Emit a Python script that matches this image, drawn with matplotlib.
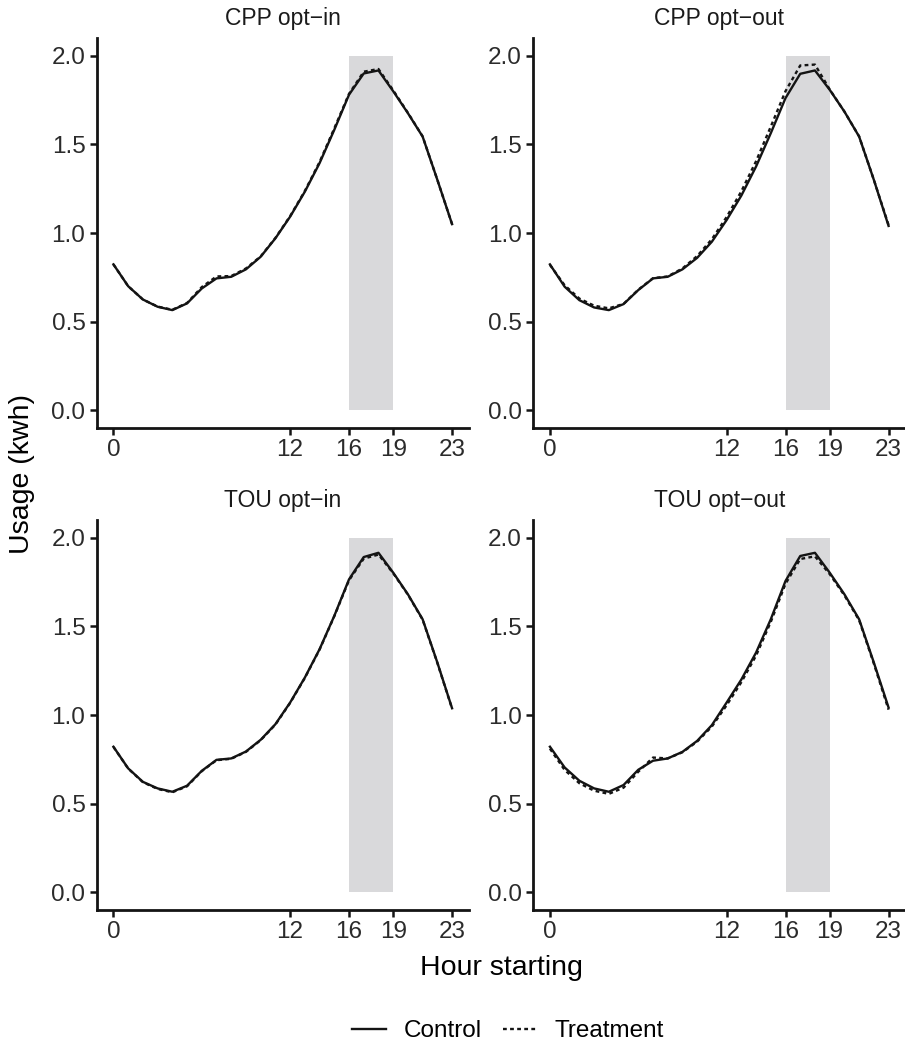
import numpy as np
import matplotlib
matplotlib.use("Agg")
from matplotlib import pyplot as plt
from matplotlib import patches as pts
from matplotlib.lines import Line2D

plt.rcParams['font.family'] = ['Liberation Sans', 'DejaVu Sans']

hours = list(range(24))
x_ticks = [0, 12, 16, 19, 23]
y_ticks = [0.0, 0.5, 1.0, 1.5, 2.0]
peak_start, peak_end, peak_top = 16, 19, 2.0
panel_titles = ['CPP opt\u2212in', 'CPP opt\u2212out', 'TOU opt\u2212in', 'TOU opt\u2212out']

# usage (kwh), one list per panel and group
cpp_in_control = [0.823, 0.700, 0.625, 0.584, 0.565, 0.603, 0.687, 0.744, 0.753, 0.795, 0.866, 0.970,
                  1.092, 1.233, 1.394, 1.582, 1.780, 1.900, 1.917, 1.800, 1.676, 1.544, 1.300, 1.050]
cpp_in_treat = [0.823, 0.700, 0.625, 0.585, 0.567, 0.605, 0.695, 0.755, 0.757, 0.800, 0.868, 0.972,
                1.095, 1.237, 1.400, 1.590, 1.785, 1.910, 1.925, 1.805, 1.678, 1.545, 1.300, 1.050]
cpp_out_control = [0.823, 0.697, 0.621, 0.580, 0.565, 0.599, 0.678, 0.744, 0.753, 0.795, 0.860, 0.951,
                   1.073, 1.211, 1.375, 1.563, 1.761, 1.898, 1.917, 1.808, 1.685, 1.544, 1.300, 1.040]
cpp_out_treat = [0.820, 0.705, 0.630, 0.590, 0.575, 0.600, 0.680, 0.745, 0.755, 0.800, 0.870, 0.965,
                 1.090, 1.235, 1.405, 1.600, 1.800, 1.945, 1.950, 1.810, 1.685, 1.545, 1.300, 1.045]
tou_in_control = [0.821, 0.699, 0.623, 0.586, 0.567, 0.601, 0.685, 0.747, 0.755, 0.794, 0.860, 0.948,
                  1.070, 1.211, 1.371, 1.559, 1.765, 1.891, 1.915, 1.803, 1.681, 1.540, 1.296, 1.038]
tou_in_treat = [0.820, 0.698, 0.621, 0.583, 0.564, 0.598, 0.683, 0.745, 0.753, 0.792, 0.858, 0.946,
                1.068, 1.209, 1.369, 1.557, 1.760, 1.882, 1.905, 1.800, 1.679, 1.538, 1.294, 1.036]
tou_out_control = [0.821, 0.704, 0.629, 0.586, 0.567, 0.605, 0.691, 0.742, 0.755, 0.792, 0.854, 0.943,
                   1.070, 1.200, 1.352, 1.540, 1.756, 1.897, 1.915, 1.803, 1.681, 1.540, 1.296, 1.042]
tou_out_treat = [0.810, 0.690, 0.615, 0.573, 0.555, 0.590, 0.680, 0.760, 0.755, 0.790, 0.850, 0.935,
                 1.055, 1.185, 1.335, 1.525, 1.740, 1.880, 1.895, 1.795, 1.675, 1.535, 1.290, 1.030]

controls = [cpp_in_control, cpp_out_control, tou_in_control, tou_out_control]
treats = [cpp_in_treat, cpp_out_treat, tou_in_treat, tou_out_treat]

W, H = 905, 1044
fig = plt.figure(figsize=(W / 100, H / 100), dpi=100)

# panel boxes in pixels: left, top, right, bottom
boxes = [(96.5, 38, 469, 428), (533, 38, 905.5, 428),
         (96.5, 520, 469, 910), (533, 520, 905.5, 910)]
title_y = [19, 19, 501, 501]

dash = (0, (1.6, 1.4))
ink = '#141414'

for i in range(4):
    l, t, r, b = boxes[i]
    ax = fig.add_axes([l / W, 1 - b / H, (r - l) / W, (b - t) / H])
    ax.add_patch(pts.Rectangle((peak_start, 0), peak_end - peak_start, peak_top,
                               facecolor='#d9d9db', edgecolor='none', zorder=0))
    ax.plot(hours, controls[i], color=ink, lw=1.7, solid_joinstyle='round', zorder=2)
    ax.plot(hours, treats[i], color=ink, lw=1.7, linestyle=dash, zorder=2)
    ax.set_xlim(-1.15, 24.15)
    ax.set_ylim(-0.1, 2.1)
    ax.set_xticks(x_ticks)
    ax.set_yticks(y_ticks)
    ax.set_yticklabels(['{:.1f}'.format(v) for v in y_ticks])
    for s in ['top', 'right']:
        ax.spines[s].set_visible(False)
    for s in ['left', 'bottom']:
        ax.spines[s].set_linewidth(2.0)
        ax.spines[s].set_color(ink)
        ax.spines[s].set_capstyle('projecting')
    ax.tick_params(length=5, width=1.8, color=ink, labelsize=17.5, labelcolor='#2b2b2b', pad=3)
    fig.text((l + r) / 2 / W, 1 - title_y[i] / H, panel_titles[i], ha='center', va='center',
             fontsize=16.5, color='#1a1a1a')

fig.text(22 / W, 1 - 474 / H, 'Usage (kwh)', rotation=90, ha='center', va='center', fontsize=20.5)
fig.text(501 / W, 1 - 968 / H, 'Hour starting', ha='center', va='center', fontsize=20.5)

handles = [Line2D([], [], color=ink, lw=1.7),
           Line2D([], [], color=ink, lw=1.7, linestyle=dash)]
fig.legend(handles, ['Control', 'Treatment'], loc='center', bbox_to_anchor=(508 / W, 1 - 1031 / H),
           ncol=2, frameon=False, fontsize=17.5, handlelength=1.4, handletextpad=0.7, columnspacing=0.9)

fig.savefig('out.png', dpi=100)
